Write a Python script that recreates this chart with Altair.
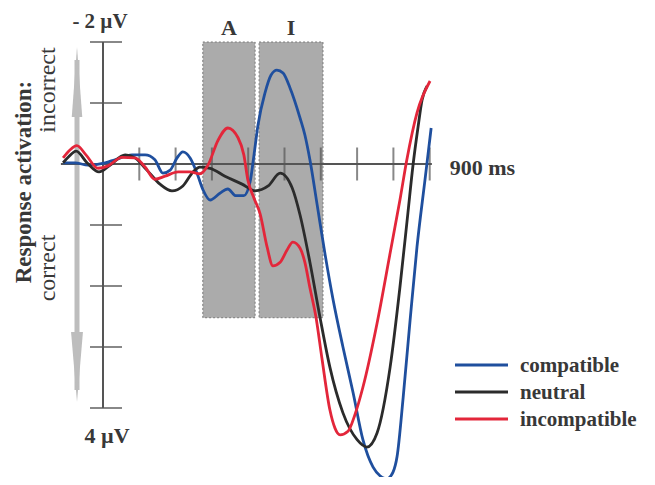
import altair as alt
import pandas as pd

# ---------------- data ----------------
series = ["compatible", "neutral", "incompatible"]
colors = ["#1f4f9e", "#2b2b2b", "#e3263a"]

t_compatible = [-110, -77, -41, 6, 33, 80, 116, 143, 165, 185, 204, 220, 240, 259, 276, 295, 322, 344, 366, 388,
                405, 416, 427, 446, 463, 479, 496, 515, 543, 556, 570, 590, 612, 634, 661, 689, 716, 744, 763, 782,
                799, 810, 827, 846, 865, 887, 904]
v_compatible = [-0.02, -0.02, 0.02, -0.02, -0.07, -0.15, -0.15, -0.07, 0.15, 0.10, -0.10, -0.20, -0.10, 0.15, 0.43,
                0.59, 0.48, 0.41, 0.52, 0.52, 0.30, -0.15, -0.64, -1.16, -1.46, -1.54, -1.49, -1.25, -0.75, -0.48,
                -0.07, 0.67, 1.49, 2.23, 3.00, 3.75, 4.52, 4.97, 5.11, 5.16, 5.05, 4.80, 3.82, 2.56, 1.36, 0.26, -0.59]

t_neutral = [-110, -96, -74, -44, -11, 19, 61, 88, 121, 157, 190, 220, 248, 267, 295, 336, 383, 419, 455, 488,
             521, 543, 570, 598, 625, 661, 700, 727, 755, 791, 818, 840, 854, 868, 879, 893]
v_neutral = [-0.02, -0.11, -0.21, -0.02, 0.13, 0.02, -0.15, -0.10, 0.10, 0.33, 0.44, 0.36, 0.13, 0.05, 0.07, 0.20,
             0.33, 0.44, 0.36, 0.15, 0.39, 0.84, 1.61, 2.52, 3.33, 4.08, 4.52, 4.64, 4.41, 3.33, 2.02, 0.80, 0.02,
             -0.61, -1.05, -1.28]

t_incompatible = [-110, -91, -72, -47, -14, 14, 52, 88, 116, 143, 171, 207, 240, 267, 289, 317, 344, 372, 388, 399,
                  416, 433, 452, 468, 488, 507, 523, 543, 556, 570, 587, 603, 625, 639, 653, 675, 694, 716, 755, 791,
                  818, 837, 865, 901]
v_incompatible = [-0.10, -0.23, -0.30, -0.15, 0.07, 0.03, -0.11, -0.10, 0.05, 0.25, 0.20, 0.13, 0.13, 0.16, 0.02,
                  -0.39, -0.59, -0.43, -0.15, 0.26, 0.56, 0.82, 1.36, 1.67, 1.61, 1.41, 1.28, 1.38, 1.61, 2.03, 2.52,
                  3.18, 4.03, 4.33, 4.44, 4.38, 4.11, 3.66, 2.61, 1.46, 0.59, -0.07, -0.84, -1.36]

box_labels = ["A", "I"]
box_start = [275, 430]
box_end = [419, 606]
box_top = [-2.0, -2.0]
box_bottom = [2.52, 2.52]

y_ticks = [-2, -1, 0, 1, 2, 3, 4]
x_ticks = [100, 200, 300, 400, 500, 600, 700, 800, 900]
x_axis_range = [-116, 906]
y_axis_range = [-2, 4]

# ---------------- layout ----------------
W, H = 639, 469
PX_PER_MS = 0.363
PX_PER_UV = 61.0
X0_PX = 95.0   # plot-x of t = 0
Y0_PX = 156.0  # plot-y of v = 0
t_min = -X0_PX / PX_PER_MS
t_max = (W - X0_PX) / PX_PER_MS
v_min = -Y0_PX / PX_PER_UV
v_max = (H - Y0_PX) / PX_PER_UV


def T(page_x):
    return (page_x - 8 - X0_PX) / PX_PER_MS


def V(page_y):
    return (page_y - 8 - Y0_PX) / PX_PER_UV


xs = alt.Scale(domain=[t_min, t_max], nice=False, zero=False)
ys = alt.Scale(domain=[v_min, v_max], nice=False, zero=False, reverse=True)
cs = alt.Scale(domain=series, range=colors)

FONT = "Liberation Serif"
TXT = "#383838"
AXC = "#555555"
ARROW = "#bdbdbd"


def X(field="t"):
    return alt.X(f"{field}:Q", scale=xs, axis=None)


def Y(field="v"):
    return alt.Y(f"{field}:Q", scale=ys, axis=None)


# curves
rows = []
for name, ts, vs in [("compatible", t_compatible, v_compatible),
                     ("neutral", t_neutral, v_neutral),
                     ("incompatible", t_incompatible, v_incompatible)]:
    for t, v in zip(ts, vs):
        rows.append({"t": t, "v": v, "series": name})
curves_df = pd.DataFrame(rows)

boxes_df = pd.DataFrame({"label": box_labels, "t": box_start, "t2": box_end,
                         "v": box_top, "v2": box_bottom})

boxes = alt.Chart(boxes_df).mark_rect(fill="#ababab", stroke="#7a7a7a", strokeDash=[2, 2],
                                      strokeWidth=1).encode(
    x=X(), x2="t2:Q", y=Y(), y2="v2:Q")

box_text = alt.Chart(boxes_df).mark_text(font=FONT, fontSize=22, fontWeight="bold", color=TXT,
                                         baseline="middle", dy=-14).encode(
    x=alt.X("tm:Q", scale=xs, axis=None), y=Y(), text="label:N").transform_calculate(
    tm="(datum.t + datum.t2) / 2")

# gray arrow
arrow_x = T(77)
shaft_df = pd.DataFrame({"t": [arrow_x], "v": [V(60)], "v2": [V(390)]})
shaft = alt.Chart(shaft_df).mark_rule(color=ARROW, strokeWidth=5).encode(x=X(), y=Y(), y2="v2:Q")
head_up = alt.Chart(pd.DataFrame({"t": [arrow_x], "v": [V(82)]})).mark_point(
    shape="M0,-1L0.15,1L-0.15,1Z", filled=True, size=70 * 70, color=ARROW, opacity=1).encode(x=X(), y=Y())
head_down = alt.Chart(pd.DataFrame({"t": [arrow_x], "v": [V(367)]})).mark_point(
    shape="M0,1L0.17,-1L-0.17,-1Z", filled=True, size=70 * 70, color=ARROW, opacity=1).encode(x=X(), y=Y())

# axes
xaxis = alt.Chart(pd.DataFrame({"t": [x_axis_range[0]], "t2": [x_axis_range[1]], "v": [0]})).mark_rule(
    color=AXC, strokeWidth=2).encode(x=X(), x2="t2:Q", y=Y())
yaxis = alt.Chart(pd.DataFrame({"t": [0], "v": [y_axis_range[0]], "v2": [y_axis_range[1]]})).mark_rule(
    color=AXC, strokeWidth=2).encode(x=X(), y=Y(), y2="v2:Q")
yticks = alt.Chart(pd.DataFrame({"t": [0] * len(y_ticks), "v": y_ticks})).mark_tick(
    orient="horizontal", size=32, thickness=2, color=AXC, xOffset=3).encode(x=X(), y=Y())
xticks = alt.Chart(pd.DataFrame({"t": x_ticks, "v": [0] * len(x_ticks)})).mark_tick(
    orient="vertical", size=33, thickness=2, color=AXC).encode(x=X(), y=Y())

lines = alt.Chart(curves_df).mark_line(strokeWidth=2.8, interpolate="monotone").encode(
    x=X(), y=Y(), color=alt.Color("series:N", scale=cs, legend=None),
    detail="series:N")

# annotations
top_lbl = alt.Chart(pd.DataFrame({"t": [0], "v": [y_axis_range[0]], "text": ["- 2 µV"]})).mark_text(
    font=FONT, fontSize=21, fontWeight="bold", color=TXT, baseline="middle", align="center", dx=-3, dy=-20).encode(
    x=X(), y=Y(), text="text:N")
bot_lbl = alt.Chart(pd.DataFrame({"t": [0], "v": [y_axis_range[1]], "text": ["4 µV"]})).mark_text(
    font=FONT, fontSize=22, fontWeight="bold", color=TXT, baseline="middle", align="center", dx=4, dy=28).encode(
    x=X(), y=Y(), text="text:N")
ms_lbl = alt.Chart(pd.DataFrame({"t": [x_ticks[-1]], "v": [0], "text": ["900 ms"]})).mark_text(
    font=FONT, fontSize=22, fontWeight="bold", color=TXT, baseline="middle", align="left", dx=20, dy=4).encode(
    x=X(), y=Y(), text="text:N")

ytitle = alt.Chart(pd.DataFrame({"t": [T(24)], "v": [V(182)], "text": ["Response activation:"]})).mark_text(
    font=FONT, fontSize=23, fontWeight="bold", color=TXT, angle=270, baseline="middle", align="center").encode(
    x=X(), y=Y(), text="text:N")
dir_df = pd.DataFrame({"t": [T(48), T(48)], "v": [V(90), V(268)], "text": ["incorrect", "correct"]})
dirs = alt.Chart(dir_df).mark_text(font=FONT, fontSize=24, color=TXT, angle=270, baseline="middle",
                                   align="center").encode(x=X(), y=Y(), text="text:N")

# legend (manual)
leg_df = pd.DataFrame({"series": series,
                       "t": [T(455)] * 3, "t2": [T(508)] * 3, "tl": [T(520)] * 3,
                       "v": [V(365), V(392), V(419)]})
leg_lines = alt.Chart(leg_df).mark_rule(strokeWidth=3).encode(
    x=X(), x2="t2:Q", y=Y(), color=alt.Color("series:N", scale=cs, legend=None))
leg_text = alt.Chart(leg_df).mark_text(font=FONT, fontSize=21, fontWeight="bold", color=TXT, align="left",
                                       baseline="middle", dy=1).encode(
    x=alt.X("tl:Q", scale=xs, axis=None), y=Y(), text="series:N")

chart = alt.layer(
    boxes, shaft, head_up, head_down, xaxis, yaxis, yticks, xticks, lines,
    box_text, top_lbl, bot_lbl, ms_lbl, ytitle, dirs, leg_lines, leg_text
).properties(
    width=W, height=H, autosize=alt.AutoSizeParams(type="none"), padding=0, background="white"
).configure_view(stroke=None)

chart.save("out.html", embed_options={"renderer": "svg", "actions": False})
